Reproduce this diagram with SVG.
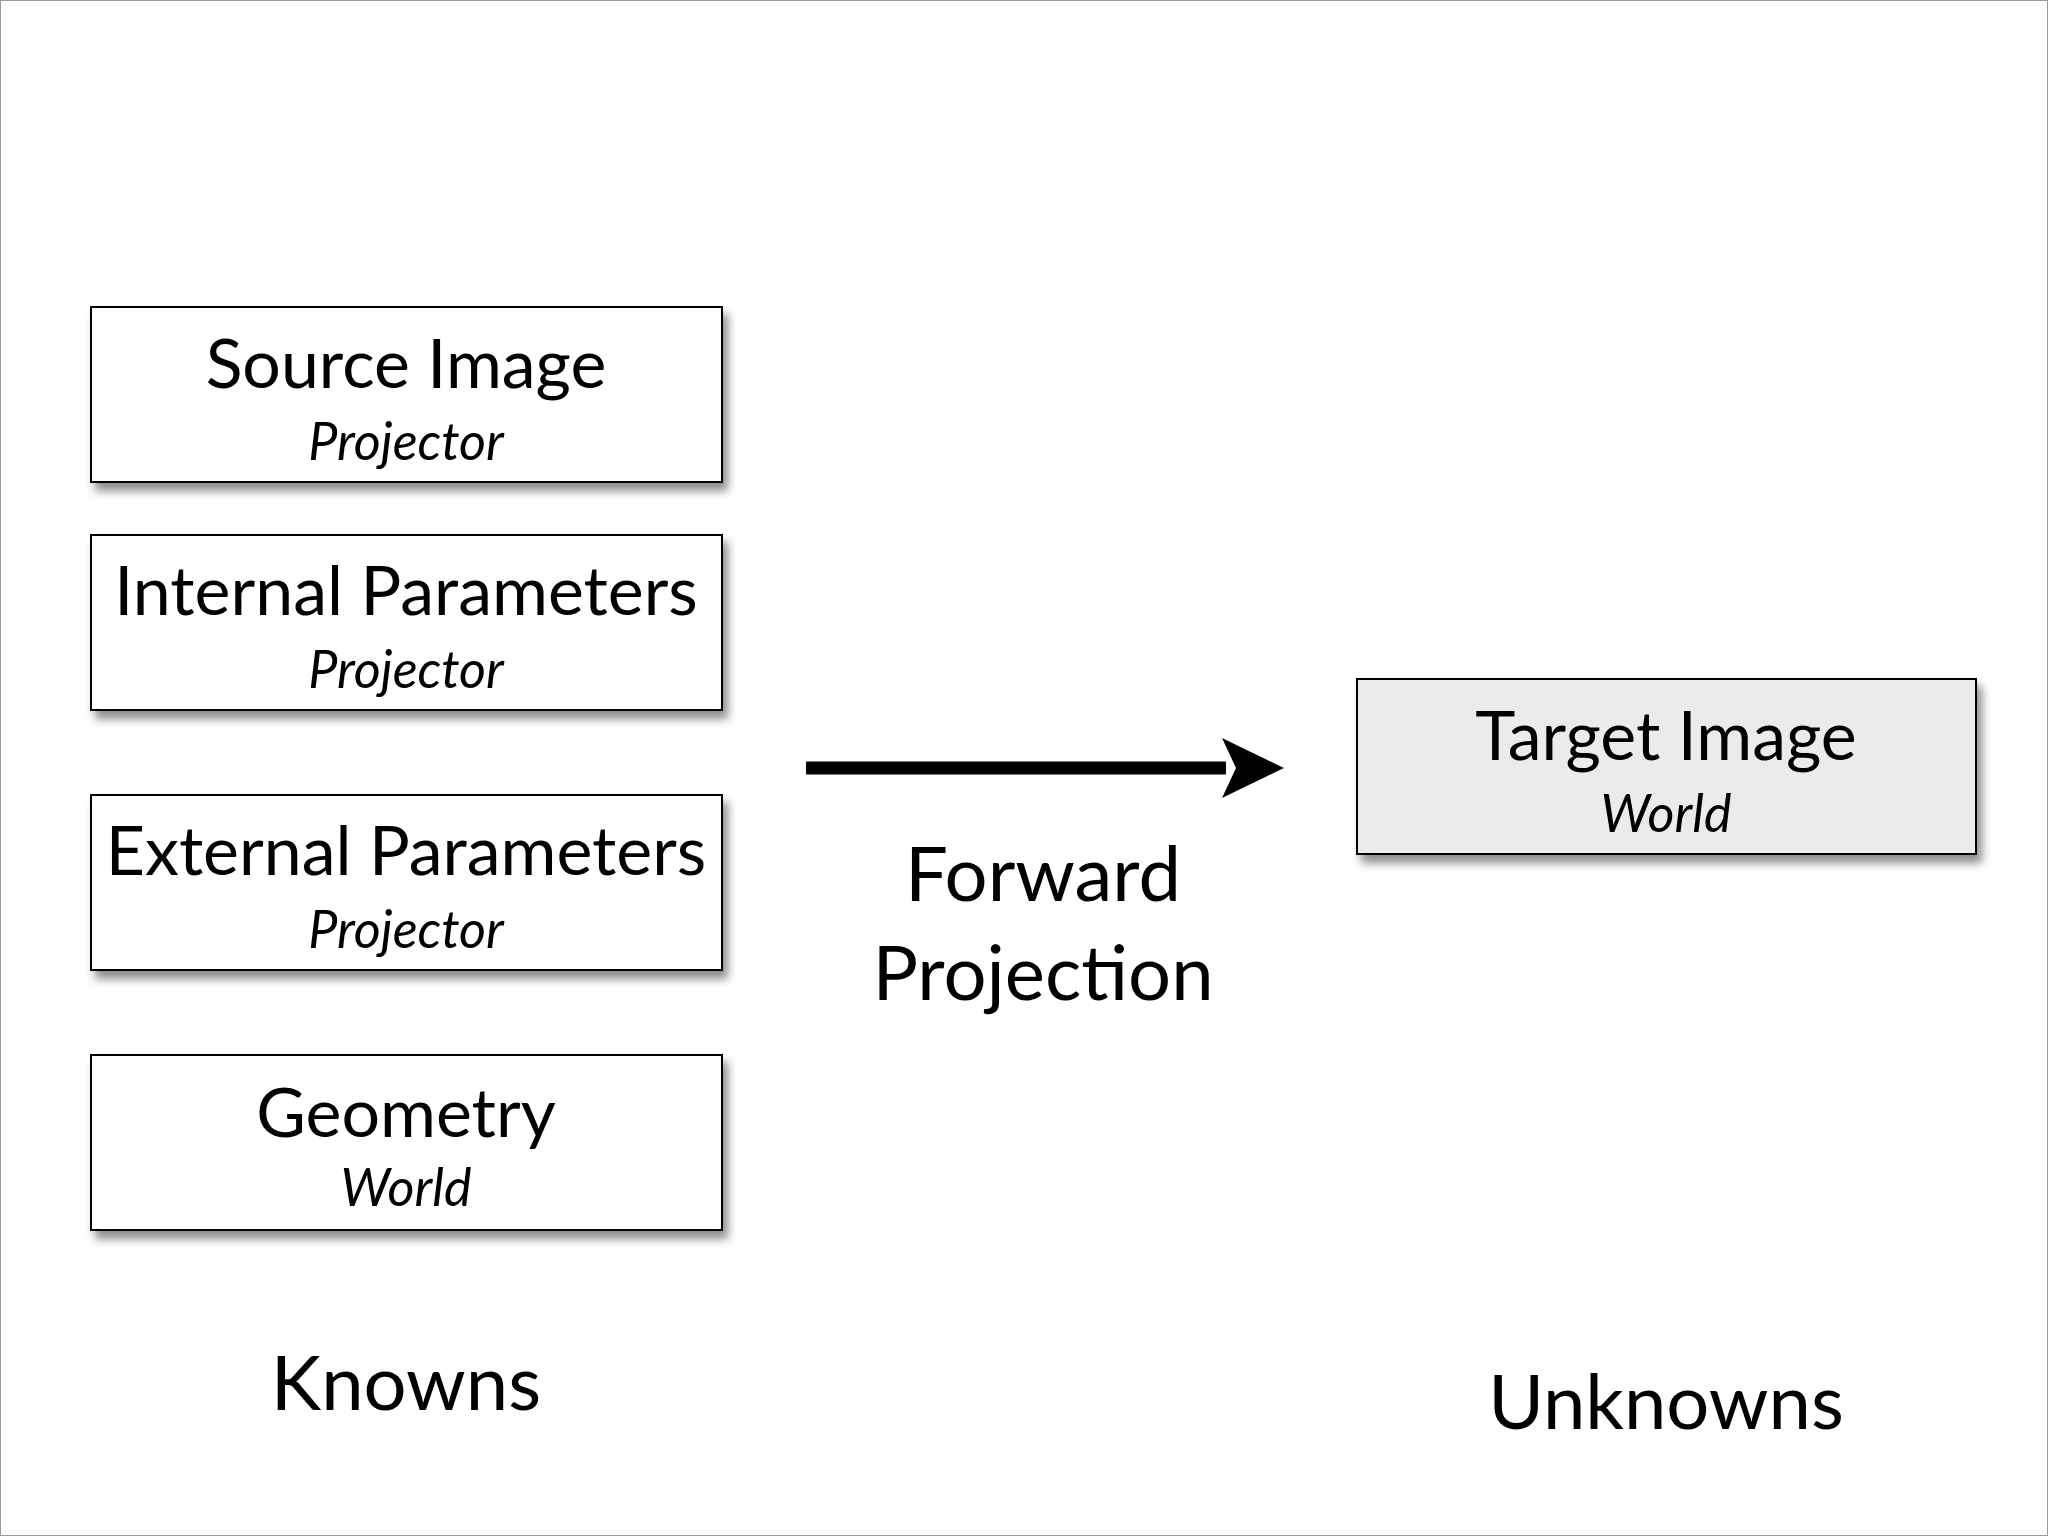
<svg xmlns="http://www.w3.org/2000/svg" width="2048" height="1536" viewBox="0 0 2048 1536">
<defs>
<filter id="sh" x="-10%" y="-10%" width="130%" height="140%"><feDropShadow dx="5" dy="8" stdDeviation="5" flood-color="#000" flood-opacity="0.45"/></filter>
<style>
.box{fill:#fff;stroke:#000;stroke-width:2;filter:url(#sh)}
.t{font-family:Lato,"Open Sans",sans-serif;font-size:68px;text-anchor:middle;fill:#000}
.s{font-family:Lato,"Open Sans",sans-serif;font-style:italic;font-size:52px;text-anchor:middle;fill:#000}
.b{font-family:Lato,"Open Sans",sans-serif;font-size:76px;text-anchor:middle;fill:#000}
</style>
</defs>
<rect x="0.5" y="0.5" width="2047" height="1535" fill="#fff" stroke="#999" stroke-width="1"/>
<g id="source"><rect class="box" x="91" y="307" width="631" height="175"/><text class="t" x="406" y="388">Source Image</text><text class="s" x="406" y="460">Projector</text></g>
<g id="internal"><rect class="box" x="91" y="535" width="631" height="175"/><text class="t" x="406" y="615">Internal Parameters</text><text class="s" x="406" y="688">Projector</text></g>
<g id="external"><rect class="box" x="91" y="795" width="631" height="175"/><text class="t" x="406" y="875">External Parameters</text><text class="s" x="406" y="948">Projector</text></g>
<g id="geometry"><rect class="box" x="91" y="1055" width="631" height="175"/><text class="t" x="406" y="1137">Geometry</text><text class="s" x="406" y="1206">World</text></g>
<g id="target"><rect class="box" x="1357" y="679" width="619" height="175" style="fill:#ebebeb"/><text class="t" x="1666" y="760">Target Image</text><text class="s" x="1666" y="832">World</text></g>
<g id="connectors"><line x1="806" y1="768" x2="1226" y2="768" stroke="#000" stroke-width="13"/><polygon points="1222,738 1284,768 1222,798 1236,768" fill="#000"/></g>
<g id="labels">
<text class="b" x="1043" y="901">Forward</text><text class="b" x="1043" y="1000">Projection</text>
<text class="b" x="406" y="1410">Knowns</text><text class="b" x="1666" y="1429">Unknowns</text>
</g>
</svg>
